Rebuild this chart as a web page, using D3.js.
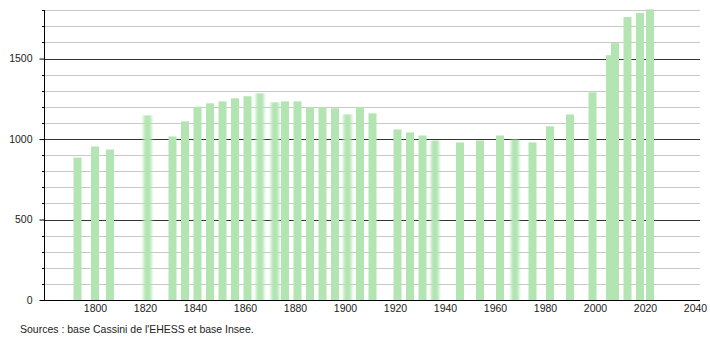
<!DOCTYPE html>
<html lang="fr">
<head>
    <meta charset="UTF-8">
    <title>Population</title>
    <script src="https://d3js.org/d3.v7.min.js"></script>
    <style>
        body { margin: 0; background: #fff; }
        text {
            font-family: 'Liberation Sans', Arial, sans-serif;
            font-size: 10.5px;
            fill: #222;
        }
    </style>
</head>
<body>
<script>

    const width  = 710;
    const height = 340;

    const years = [1793, 1800, 1806, 1821, 1831, 1836, 1841, 1846, 1851, 1856,
                   1861, 1866, 1872, 1876, 1881, 1886, 1891, 1896, 1901, 1906,
                   1911, 1921, 1926, 1931, 1936, 1946, 1954, 1962, 1968, 1975,
                   1982, 1990, 1999, 2006, 2008, 2013, 2018, 2022];

    const population = [885, 954, 935, 1147, 1016, 1110, 1201, 1222, 1234, 1253,
                        1266, 1284, 1228, 1234, 1234, 1199, 1199, 1191, 1153, 1199,
                        1160, 1060, 1041, 1022, 991, 979, 991, 1022, 997, 979,
                        1079, 1153, 1290, 1521, 1596, 1758, 1783, 1806];

    // bars that look smeared in the original image
    const blurred = [1821, 1866, 1872, 1901, 1936, 1968];

    const xTicks = [1800, 1820, 1840, 1860, 1880, 1900, 1920, 1940, 1960, 1980, 2000, 2020, 2040];
    const yTicks = [0, 500, 1000, 1500];

    const source = "Sources : base Cassini de l'EHESS et base Insee.";

    const x = d3.scaleLinear()
            .domain([1780, 2042])
            .range([45, 700]);
    const y = d3.scaleLinear()
            .domain([0, 1800])
            .range([300, 10.3]);

    const svg = d3.select("body")
            .append("svg")
            .attr("width", width)
            .attr("height", height);

    const defs = svg.append("defs");
    defs.append("filter")
            .attr("id", "smear")
            .attr("x", "-100%").attr("width", "300%")
            .append("feGaussianBlur")
            .attr("stdDeviation", "1.8 0");

    // grid, every 100 light, every 500 dark
    const minor = d3.range(100, 1801, 100).filter(d => d % 500 !== 0);
    svg.append("g")
            .selectAll("line")
            .data(minor)
            .enter()
            .append("line")
            .attr("x1", 44).attr("x2", 700)
            .attr("y1", d => Math.round(y(d)) + 0.5)
            .attr("y2", d => Math.round(y(d)) + 0.5)
            .attr("stroke", "#c8c8c8");

    svg.append("g")
            .selectAll("line")
            .data(yTicks.filter(d => d > 0))
            .enter()
            .append("line")
            .attr("x1", 44).attr("x2", 700)
            .attr("y1", d => Math.round(y(d)) + 0.5)
            .attr("y2", d => Math.round(y(d)) + 0.5)
            .attr("stroke", "#333");

    // bars
    const data = years.map((d, i) => ({year: d, value: population[i]}));
    svg.append("g")
            .selectAll("rect")
            .data(data)
            .enter()
            .append("rect")
            .attr("x", d => x(d.year) - 4)
            .attr("width", 8)
            .attr("y", d => y(d.value))
            .attr("height", d => y(0) - y(d.value))
            .attr("fill", "#b2e5b2")
            .attr("filter", d => blurred.includes(d.year) ? "url(#smear)" : null);

    // y axis with minor ticks
    const yAxis = svg.append("g")
            .attr("transform", "translate(44.5,0)")
            .call(d3.axisLeft(y).tickValues(yTicks).tickFormat(d3.format("d")).tickSize(5).tickPadding(7));
    yAxis.select(".domain").attr("d", "M0," + y(1800) + "V300.5");
    yAxis.selectAll("text").style("font-size", null);

    svg.append("g")
            .selectAll("line")
            .data(minor)
            .enter()
            .append("line")
            .attr("x1", 42).attr("x2", 45)
            .attr("y1", d => Math.round(y(d)) + 0.5)
            .attr("y2", d => Math.round(y(d)) + 0.5)
            .attr("stroke", "#000");

    // x axis, no tick marks
    const xAxis = svg.append("g")
            .attr("transform", "translate(0,300.5)")
            .call(d3.axisBottom(x).tickValues(xTicks).tickFormat(d3.format("d")).tickSize(0).tickPadding(4));
    xAxis.select(".domain").attr("d", "M40,0H700");
    xAxis.selectAll("text").style("font-size", null);

    svg.append("text")
            .attr("x", 20)
            .attr("y", 333)
            .text(source);

</script>
</body>
</html>
